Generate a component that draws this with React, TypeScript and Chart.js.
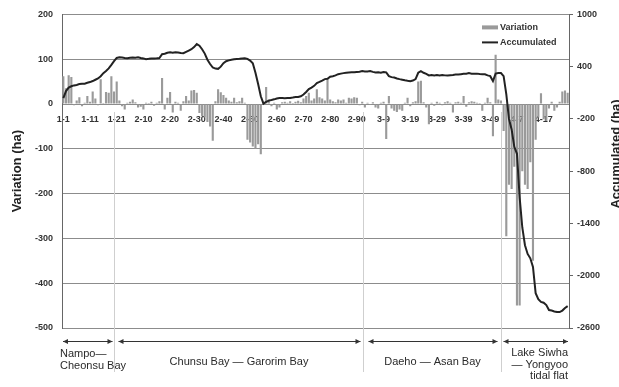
import React, { useEffect, useRef } from "react";
import { Chart, registerables } from "chart.js";

Chart.register(...registerables);

// ---------- data ----------
const sectionPrefixes = [1, 2, 3, 4];
const sectionCounts = [21, 91, 52, 26];
const sectionNames: string[][] = [
  ["Nampo—", "Cheonsu Bay"],
  ["Chunsu Bay — Garorim Bay"],
  ["Daeho — Asan Bay"],
  ["Lake Siwha", "— Yongyoo", "tidal flat"],
];
const categories: string[] = [];
sectionPrefixes.forEach((p, s) => {
  for (let k = 1; k <= sectionCounts[s]; k++) categories.push(`${p}-${k}`);
});
const tickEvery = 10;

const variation = [
  // 1-1 .. 1-21
  62, 35, 64, 60, -3, 8, 15, -5, 3, 18, 5, 28, 12, -3, 55, 2, 27, 25, 62, 28, 50,
  // 2-1 .. 2-91
  8, -5, -12, 3, 5, 10, 4, -8, -6, -12,
  3, 2, 5, -4, 3, 6, 58, -12, 14, 27,
  -19, 5, 3, -15, 6, 18, 8, 30, 31, 25,
  -20, -27, -30, -40, -50, -82, 6, 33, 26, 20,
  14, 8, 5, 14, 4, 6, 14, 3, -80, -86,
  -95, -100, -90, -112, 5, 38, 10, -5, 3, -12,
  -8, 4, 5, 3, 6, 2, 5, 7, 4, 12,
  18, 25, 8, 12, 33, 15, 12, 8, 55, 10,
  6, 4, 10, 8, 10, 3, 14, 12, 15, 14, -3,
  // 3-1 .. 3-52
  5, -8, 3, -2, 4, -8, -10, 3, 5, -78,
  18, -10, -15, -18, -12, -15, 3, 14, -5, 4,
  6, 50, 52, 4, -8, -45, 3, -4, 5, 3,
  -3, 4, 6, 3, -19, 4, 5, 3, 18, -6,
  4, 6, 5, 3, 2, -15, 3, 14, 4, -72, 110, 10,
  // 4-1 .. 4-26
  8, -60, -295, -180, -190, -140, -450, -450, -150, -180,
  -190, -130, -350, -80, -30, 24, -34, -38, -10, 5,
  -15, -8, 5, 28, 30, 25,
];

const accumulated = [
  // 1-1 .. 1-21
  40, 120, 160, 175, 185, 190, 200, 205, 205, 215, 223, 235, 250, 265, 290, 326, 350, 380, 420, 463, 500,
  // 2-1 .. 2-91
  509, 505, 500, 497, 502, 505, 503, 509, 500, 495,
  486, 490, 495, 495, 497, 500, 543, 548, 560, 566,
  560, 566, 562, 556, 554, 570, 585, 600, 625, 660,
  640, 600, 550, 480, 430, 390, 378, 375, 400, 440,
  462, 472, 480, 484, 488, 490, 494, 496, 490, 470,
  440, 330, 200, 60, -25, -5, 10, 17, 25, 35,
  40, 40, 38, 40, 40, 45, 51, 51, 60, 80,
  110, 143, 160, 180, 211, 225, 240, 257, 260, 285,
  291, 300, 314, 320, 326, 330, 334, 336, 336, 340, 342,
  // 3-1 .. 3-52
  349, 345, 345, 349, 340, 333, 335, 330, 338, 335,
  291, 280, 275, 265, 257, 250, 243, 238, 234, 240,
  257, 330, 349, 330, 318, 300, 305, 300, 304, 300,
  305, 300, 298, 302, 305, 310, 310, 314, 318, 320,
  326, 320, 318, 320, 315, 314, 312, 300, 291, 234, 320, 326,
  // 4-1 .. 4-26
  326, 291, 86, -200, -320, -520, -600, -1100, -1446, -1650,
  -1750, -1800, -1900, -2200, -2270, -2300, -2310, -2337, -2394, -2400,
  -2410, -2417, -2417, -2400, -2371, -2349,
];

const leftTicks = { min: -500, max: 200, step: 100 };
const rightTicks = { min: -2600, max: 1000, step: 600 };

// ---------- styling ----------
const FONT = "'Liberation Sans', Arial, sans-serif";
const TEXT = "#333333";
const BAR = "#9a9a9a";
const LINE = "#222222";
const GRID = "#8c8c8c";

const annotations = {
  id: "annotations",
  beforeDatasetsDraw(chart: any) {
    const { ctx, scales } = chart;
    const x = scales.x;
    const y = scales.y;
    const zero = y.getPixelForValue(0);
    const divs = [19, 112.2, 163.9].map((v) => Math.round(x.getPixelForValue(v)) + 0.5);
    ctx.save();
    ctx.strokeStyle = "#cfcfcf";
    ctx.lineWidth = 1;
    divs.forEach((px) => {
      ctx.beginPath();
      ctx.moveTo(px, zero + 8);
      ctx.lineTo(px, 372);
      ctx.stroke();
    });
    ctx.restore();
  },
  afterDraw(chart: any) {
    const { ctx, chartArea, scales } = chart;
    const x = scales.x;
    const { left, right, top, bottom } = chartArea;
    const divs = [19, 112.2, 163.9].map((v) => Math.round(x.getPixelForValue(v)) + 0.5);
    ctx.save();

    // legend
    ctx.fillStyle = BAR;
    ctx.fillRect(right - 87, top + 11, 16, 4);
    ctx.strokeStyle = LINE;
    ctx.lineWidth = 2;
    ctx.beginPath();
    ctx.moveTo(right - 87, top + 28);
    ctx.lineTo(right - 71, top + 28);
    ctx.stroke();
    ctx.fillStyle = TEXT;
    ctx.font = `bold 9px ${FONT}`;
    ctx.textAlign = "left";
    ctx.textBaseline = "middle";
    ctx.fillText("Variation", right - 69, top + 13);
    ctx.fillText("Accumulated", right - 69, top + 28);

    // axis titles
    ctx.font = `bold 13px ${FONT}`;
    ctx.textAlign = "center";
    ctx.fillStyle = "#222";
    ctx.save();
    ctx.translate(17.5, (top + bottom) / 2);
    ctx.rotate(-Math.PI / 2);
    ctx.fillText("Variation (ha)", 0, 0);
    ctx.restore();
    ctx.save();
    ctx.translate(616, 154);
    ctx.rotate(-Math.PI / 2);
    ctx.fillText("Accumulated (ha)", 0, 0);
    ctx.restore();

    // section arrows
    const ay = 341.5;
    const spans = [
      [left + 1, divs[0] - 2],
      [divs[0] + 4, divs[1] - 3],
      [divs[1] + 5, divs[2] - 4],
      [divs[2] + 2, right - 1],
    ];
    ctx.strokeStyle = "#333";
    ctx.fillStyle = "#333";
    ctx.lineWidth = 1;
    spans.forEach(([a, b]) => {
      ctx.beginPath();
      ctx.moveTo(a, ay);
      ctx.lineTo(b, ay);
      ctx.stroke();
      ctx.beginPath();
      ctx.moveTo(a, ay);
      ctx.lineTo(a + 5, ay - 2.5);
      ctx.lineTo(a + 5, ay + 2.5);
      ctx.closePath();
      ctx.fill();
      ctx.beginPath();
      ctx.moveTo(b, ay);
      ctx.lineTo(b - 5, ay - 2.5);
      ctx.lineTo(b - 5, ay + 2.5);
      ctx.closePath();
      ctx.fill();
    });

    // section names
    ctx.font = `11px ${FONT}`;
    ctx.fillStyle = "#2a2a2a";
    ctx.textBaseline = "middle";
    ctx.textAlign = "left";
    sectionNames[0].forEach((t, i) => ctx.fillText(t, left - 2, 354 + i * 11.5));
    ctx.textAlign = "center";
    ctx.fillText(sectionNames[1][0], (divs[0] + divs[1]) / 2, 362);
    ctx.fillText(sectionNames[2][0], (divs[1] + divs[2]) / 2, 362);
    ctx.textAlign = "right";
    sectionNames[3].forEach((t, i) => ctx.fillText(t, right - 1, 353 + i * 11.5));
    ctx.restore();
  },
};

export default function App() {
  const ref = useRef<HTMLCanvasElement | null>(null);
  useEffect(() => {
    if (!ref.current) return;
    const tickFont = { family: FONT, size: 9, weight: "bold" as const };
    const chart = new Chart(ref.current, {
      type: "bar",
      data: {
        labels: categories,
        datasets: [
          {
            type: "line",
            label: "Accumulated",
            data: accumulated,
            yAxisID: "y1",
            borderColor: LINE,
            borderWidth: 2,
            pointRadius: 0,
            tension: 0,
            order: 0,
          } as any,
          {
            type: "bar",
            label: "Variation",
            data: variation,
            yAxisID: "y",
            backgroundColor: BAR,
            barPercentage: 0.8,
            categoryPercentage: 1,
            order: 1,
          },
        ],
      },
      options: {
        animation: false,
        responsive: true,
        maintainAspectRatio: false,
        layout: { padding: { left: 0, right: 0, top: 13, bottom: 59 } },
        plugins: { legend: { display: false }, tooltip: { enabled: false } },
        scales: {
          x: {
            type: "category",
            position: { y: 0 } as any,
            grid: { display: false, drawTicks: false },
            border: { display: false },
            ticks: {
              autoSkip: false,
              maxRotation: 0,
              minRotation: 0,
              padding: 10,
              color: TEXT,
              font: tickFont,
              callback: (_v: any, i: number) => (i % tickEvery === 0 ? categories[i] : null),
            },
          },
          y: {
            position: "left",
            min: leftTicks.min,
            max: leftTicks.max,
            ticks: {
              stepSize: leftTicks.step,
              padding: 9,
              color: TEXT,
              font: tickFont,
              callback: (v: any) => String(v),
            },
            grid: { color: GRID, lineWidth: 1, drawTicks: false },
            border: { color: "#666", width: 1 },
            afterFit: (s: any) => {
              s.width = 62;
            },
          },
          y1: {
            position: "right",
            min: rightTicks.min,
            max: rightTicks.max,
            ticks: {
              stepSize: rightTicks.step,
              padding: 4,
              color: TEXT,
              font: tickFont,
              callback: (v: any) => String(v),
            },
            grid: { drawOnChartArea: false, tickLength: 4, color: "#666" },
            border: { color: "#666", width: 1 },
            afterFit: (s: any) => {
              s.width = 50;
            },
          },
        },
      },
      plugins: [annotations],
    });
    return () => chart.destroy();
  }, []);
  return (
    <div style={{ position: "fixed", left: 0, top: 0, width: 619, height: 387, background: "#fff" }}>
      <canvas ref={ref} style={{ display: "block" }} />
    </div>
  );
}
